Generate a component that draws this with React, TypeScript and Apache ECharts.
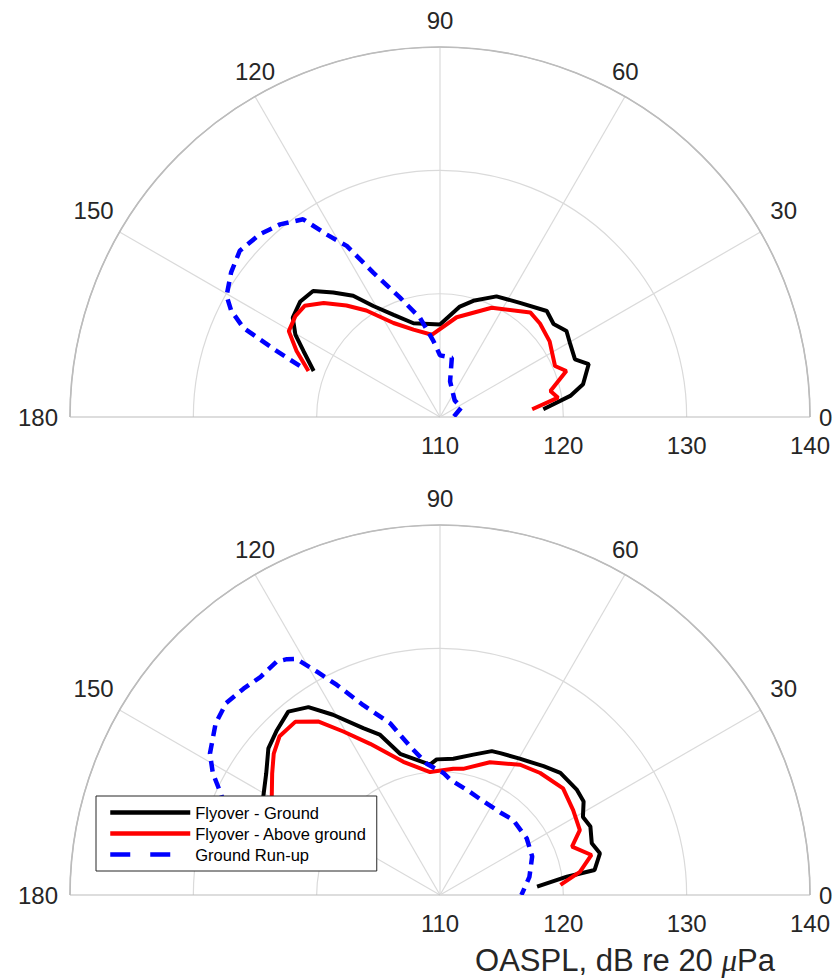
import React, { useEffect, useRef } from "react";
import * as echarts from "echarts";

// ---- tick values ----
const angleTicks = [0, 30, 60, 90, 120, 150, 180];
const radiusTicks = [110, 120, 130, 140];
const seriesNames = ["Flyover - Ground", "Flyover - Above ground", "Ground Run-up"];
const axisTitle = "OASPL, dB re 20 {mu|μ}Pa";

// ---- top panel ----
const topGroundAngle = [160.0, 154.2, 150.3, 146.0, 140.4, 135.2, 130.6, 125.6, 121.0, 114.4, 105.8, 90.0, 79.8, 74.0, 64.9, 55.0, 44.8, 39.3, 34.2, 29.2, 23.1, 19.6, 12.9, 9.2, 4.3];
const topGroundLevel = [120.9, 122.3, 123.5, 124.4, 124.7, 124.5, 123.3, 122.1, 120.5, 119.1, 117.9, 117.5, 119.1, 119.8, 120.8, 121.3, 122.2, 121.9, 122.4, 122.1, 121.9, 122.8, 121.9, 120.7, 118.4];

const topAboveAngle = [160.7, 155.3, 150.4, 145.1, 140.6, 135.6, 130.0, 124.7, 116.3, 106.9, 95.7, 80.5, 64.7, 49.2, 43.1, 34.6, 23.9, 20.0, 13.3, 9.3, 4.8];
const topAboveLevel = [121.3, 122.8, 124.1, 124.3, 124.2, 123.2, 121.8, 120.5, 118.5, 117.4, 116.7, 118.2, 119.8, 121.2, 121.1, 120.8, 120.2, 120.9, 119.2, 119.7, 117.5];

const topRunupAngle = [160.0, 158.0, 155.6, 153.0, 150.4, 145.3, 140.3, 134.6, 129.7, 124.7, 121.8, 118.6, 114.8, 108.5, 101.4, 95.0, 90.0, 78.7, 74.2, 48.6, 24.1, 0.0];
const topRunupLevel = [122.1, 124.3, 127.5, 129.0, 129.9, 130.6, 131.1, 130.8, 130.3, 129.5, 127.4, 125.8, 122.9, 120.2, 118.2, 116.2, 115.0, 114.9, 113.0, 111.8, 111.9, 111.1];

// ---- bottom panel ----
const botGroundAngle = [160.0, 150.9, 145.0, 139.5, 134.7, 129.6, 125.0, 120.7, 114.7, 110.6, 105.8, 94.4, 91.4, 84.4, 76.6, 70.2, 67.0, 59.7, 51.2, 45.4, 37.5, 33.1, 28.6, 24.5, 18.8, 14.6, 9.2, 8.2, 4.9];
const botGroundLevel = [125.3, 126.4, 127.2, 128.3, 128.8, 129.3, 128.6, 127.0, 124.9, 123.9, 121.9, 120.6, 121.0, 121.1, 121.7, 122.4, 122.5, 122.8, 123.4, 123.9, 124.0, 123.9, 123.2, 123.4, 123.0, 123.4, 122.7, 120.4, 117.9];

const botAboveAngle = [160.0, 149.7, 144.1, 139.6, 135.3, 129.9, 125.1, 120.6, 114.8, 105.4, 94.6, 84.0, 79.6, 69.4, 58.4, 50.6, 40.9, 32.5, 24.9, 20.1, 14.8, 9.4, 4.8];
const botAboveLevel = [124.6, 125.8, 126.8, 127.7, 128.3, 128.3, 127.2, 125.4, 123.5, 121.2, 120.0, 120.3, 120.4, 121.5, 122.4, 122.8, 123.2, 122.8, 122.5, 121.4, 122.7, 121.5, 119.8];

const botRunupAngle = [161.0, 155.4, 151.8, 148.4, 142.6, 138.1, 133.6, 129.5, 125.0, 123.0, 121.3, 118.9, 116.2, 112.0, 106.2, 101.4, 95.8, 88.4, 85.0, 73.8, 66.3, 53.0, 45.7, 33.2, 22.7, 11.5, 0.0];
const botRunupLevel = [128.0, 129.5, 130.9, 131.9, 132.9, 133.3, 133.1, 132.9, 133.1, 132.8, 132.4, 130.7, 129.0, 126.6, 124.5, 122.3, 120.7, 119.9, 119.4, 118.7, 118.4, 118.3, 118.5, 118.4, 118.1, 117.4, 116.6];

const FONT = "'Liberation Sans', Helvetica, Arial, sans-serif";
const TXT = "#262626";
const GRID = "#dadada";
const EDGE = "#bcbcbc";

const labelPad: Record<number, number[]> = {
  0: [0, 0, 0, 1],
  30: [0, 0, 6, 3],
  60: [0, 0, 6, -17],
  90: [0, 0, 7, 0],
  120: [0, -24, 6, 0],
  150: [0, -1, 6, 0],
  180: [0, 4, 0, 0],
};

const zip = (r: number[], a: number[]) => r.map((v, i) => [v, a[i]]);

function buildOption() {
  const rich: Record<string, any> = {};
  angleTicks.forEach((t) => {
    rich["t" + t] = { fontSize: 24, fontFamily: FONT, color: TXT, padding: labelPad[t] };
  });
  const centers = [[440, 417], [440, 895]];
  const panels = [
    [zip(topGroundLevel, topGroundAngle), zip(topAboveLevel, topAboveAngle), zip(topRunupLevel, topRunupAngle)],
    [zip(botGroundLevel, botGroundAngle), zip(botAboveLevel, botAboveAngle), zip(botRunupLevel, botRunupAngle)],
  ];
  const styles = [
    { color: "#000000", width: 4, type: "solid" },
    { color: "#ff0000", width: 4, type: "solid" },
    { color: "#0000ff", width: 4.5, type: [11, 7] },
  ];
  const series: any[] = [];
  panels.forEach((p, pi) => {
    p.forEach((d, si) => {
      series.push({
        type: "line",
        name: seriesNames[si],
        coordinateSystem: "polar",
        polarIndex: pi,
        data: d,
        symbol: "none",
        clip: false,
        color: styles[si].color,
        lineStyle: { color: styles[si].color, width: styles[si].width, type: styles[si].type as any },
      });
    });
  });
  return {
    animation: false,
    backgroundColor: "#ffffff",
    polar: centers.map((c) => ({ center: c, radius: 370 })),
    angleAxis: centers.map((_, i) => ({
      polarIndex: i,
      type: "value",
      min: angleTicks[0],
      max: angleTicks[angleTicks.length - 1],
      interval: angleTicks[1] - angleTicks[0],
      startAngle: 0,
      endAngle: 180,
      clockwise: false,
      axisLine: { show: true, lineStyle: { color: EDGE, width: 1.6 } },
      axisTick: { show: false },
      axisLabel: {
        show: true,
        margin: 8,
        fontSize: 24,
        fontFamily: FONT,
        color: TXT,
        formatter: (v: number) => `{t${v}|${v}}`,
        rich,
      },
      splitLine: {
        show: true,
        lineStyle: { color: [EDGE, GRID, GRID, GRID, GRID, GRID, EDGE], width: 1.2 },
      },
    })),
    radiusAxis: centers.map((_, i) => ({
      polarIndex: i,
      type: "value",
      min: radiusTicks[0],
      max: radiusTicks[radiusTicks.length - 1],
      interval: radiusTicks[1] - radiusTicks[0],
      axisLine: { show: false },
      axisTick: { show: false },
      axisLabel: {
        show: true,
        margin: -28,
        verticalAlign: "middle",
        fontSize: 24,
        fontFamily: FONT,
        color: TXT,
        showMinLabel: true,
        showMaxLabel: true,
      },
      splitLine: { show: true, lineStyle: { color: [GRID, GRID, GRID, EDGE], width: 1.2 } },
      name: i === 1 ? axisTitle : "",
      nameLocation: "middle",
      nameGap: 65,
      nameTextStyle: {
        fontSize: 31,
        fontFamily: FONT,
        color: TXT,
        verticalAlign: "middle",
        rich: {
          mu: { fontSize: 31, fontFamily: "'Liberation Serif', 'DejaVu Serif', serif", fontStyle: "italic", color: TXT },
        },
      },
    })),
    legend: {
      show: true,
      orient: "vertical",
      left: 96,
      top: 796,
      padding: [8, 10, 8, 12],
      itemGap: 4,
      itemWidth: 80,
      itemHeight: 14,
      backgroundColor: "#ffffff",
      borderColor: "#262626",
      borderWidth: 1,
      borderRadius: 0,
      selectedMode: false,
      itemStyle: { opacity: 0 },
      lineStyle: { width: 4.5 },
      textStyle: { fontSize: 16.5, fontFamily: FONT, color: "#000000" },
      data: seriesNames.map((n, i) =>
        i === 2 ? { name: n, lineStyle: { width: 4.5, type: [20, 20] } } : { name: n }
      ),
    },
    series,
  };
}

export default function App() {
  const ref = useRef<HTMLDivElement>(null);
  useEffect(() => {
    document.body.style.margin = "0";
    const chart = echarts.init(ref.current!, null, { renderer: "svg" });
    chart.setOption(buildOption() as any);
    return () => chart.dispose();
  }, []);
  return <div ref={ref} style={{ width: 837, height: 980 }} />;
}
